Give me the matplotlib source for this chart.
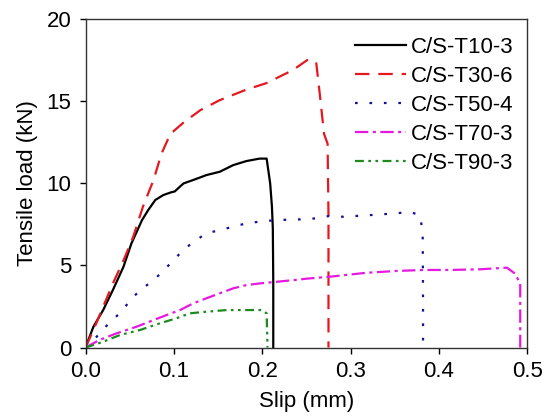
import matplotlib
matplotlib.use("Agg")
import matplotlib.pyplot as plt

plt.rcParams['font.family'] = ['Liberation Sans', 'DejaVu Sans']

labels = ["C/S-T10-3", "C/S-T30-6", "C/S-T50-4", "C/S-T70-3", "C/S-T90-3"]

t10_x = [0, 0.009, 0.020, 0.031, 0.043, 0.052, 0.064, 0.071, 0.079, 0.088, 0.097, 0.101, 0.106, 0.111,
         0.122, 0.137, 0.152, 0.167, 0.182, 0.197, 0.205, 0.209, 0.211, 0.212, 0.2125, 0.2125]
t10_y = [0, 1.27, 2.28, 3.5, 4.92, 6.34, 7.76, 8.37, 8.98, 9.28, 9.45, 9.5, 9.75, 9.99,
         10.2, 10.5, 10.7, 11.1, 11.35, 11.5, 11.5, 9.99, 8.57, 7.25, 4.0, 0]

t30_x = [0, 0.009, 0.020, 0.031, 0.043, 0.054, 0.065, 0.077, 0.086, 0.096, 0.111, 0.130,
         0.152, 0.182, 0.205, 0.235, 0.251, 0.261, 0.265, 0.270, 0.274, 0.275, 0.275]
t30_y = [0, 1.07, 2.48, 3.9, 5.3, 6.74, 8.57, 10.2, 11.8, 13.0, 13.7, 14.45,
         15.06, 15.7, 16.1, 16.9, 17.5, 17.4, 15.5, 13.0, 12.4, 8.0, 0]

t50_x = [0, 0.0127, 0.028, 0.041, 0.052, 0.065, 0.081, 0.094, 0.107, 0.122, 0.137, 0.152,
         0.167, 0.182, 0.197, 0.216, 0.243, 0.260, 0.275, 0.292, 0.322, 0.352, 0.367,
         0.378, 0.3816, 0.382, 0.382]
t50_y = [0, 0.66, 1.57, 2.18, 3.0, 3.6, 4.3, 5.0, 5.73, 6.44, 6.95, 7.15,
         7.35, 7.56, 7.66, 7.76, 7.8, 7.86, 8.0, 7.96, 8.06, 8.17, 8.26,
         8.06, 7.15, 3.0, 0]

t70_x = [0, 0.016, 0.035, 0.058, 0.077, 0.092, 0.107, 0.122, 0.137, 0.152, 0.167, 0.182,
         0.197, 0.216, 0.235, 0.252, 0.275, 0.292, 0.318, 0.352, 0.382, 0.412, 0.446,
         0.477, 0.486, 0.492, 0.492]
t70_y = [0, 0.46, 0.86, 1.27, 1.67, 1.98, 2.28, 2.69, 3.0, 3.3, 3.6, 3.8,
         3.9, 4.0, 4.1, 4.2, 4.3, 4.4, 4.55, 4.66, 4.72, 4.72, 4.76,
         4.86, 4.5, 3.9, 0]

t90_x = [0, 0.020, 0.039, 0.062, 0.084, 0.103, 0.118, 0.137, 0.160, 0.182, 0.199, 0.205, 0.206]
t90_y = [0, 0.35, 0.76, 1.07, 1.47, 1.78, 2.08, 2.18, 2.28, 2.28, 2.28, 2.08, 0]

xticks = [0.0, 0.1, 0.2, 0.3, 0.4, 0.5]
yticks = [0, 5, 10, 15, 20]

fig = plt.figure(figsize=(5.44, 4.16), dpi=100)
ax = fig.add_axes([85.5/544, 1 - 347.5/416, (527.3 - 85.5)/544, (347.5 - 19)/416])

lw = 1.6
ax.plot(t10_x, t10_y, color='black', lw=lw, linestyle='-', label=labels[0])
ax.plot(t30_x, t30_y, color='#e3191f', lw=lw, linestyle=(0, (6.5, 4)), label=labels[1])
ax.plot(t50_x, t50_y, color='#10109a', lw=lw, linestyle=(0, (1.2, 5.3)), label=labels[2])
ax.plot(t70_x, t70_y, color='#e619e0', lw=lw, linestyle=(0, (6, 2, 1.4, 2)), label=labels[3])
ax.plot(t90_x, t90_y, color='#1e8a1e', lw=lw, linestyle=(0, (4, 2, 1.2, 2, 1.2, 2)), label=labels[4])

ax.set_xlim(0, 0.5)
ax.set_ylim(0, 20)
ax.set_xticks(xticks)
ax.set_yticks(yticks)
ax.set_xticklabels([f"{v:.1f}" for v in xticks])
ax.set_yticklabels([str(v) for v in yticks])
ax.tick_params(direction='out', length=4, width=1, labelsize=16)
ax.tick_params(axis='x', pad=6)
ax.tick_params(axis='y', pad=6)
for s in ax.spines.values():
    s.set_linewidth(1.0)
    s.set_color('#333333')

ax.set_xlabel("Slip (mm)", fontsize=16, labelpad=6)
ax.set_ylabel("Tensile load (kN)", fontsize=16, labelpad=6)

leg = ax.legend(loc='upper right', frameon=False, fontsize=16, handlelength=2.3,
                handletextpad=0.25, labelspacing=0.36, borderaxespad=0.2,
                bbox_to_anchor=(1.0, 0.985))

fig.savefig("out.png", dpi=100)
